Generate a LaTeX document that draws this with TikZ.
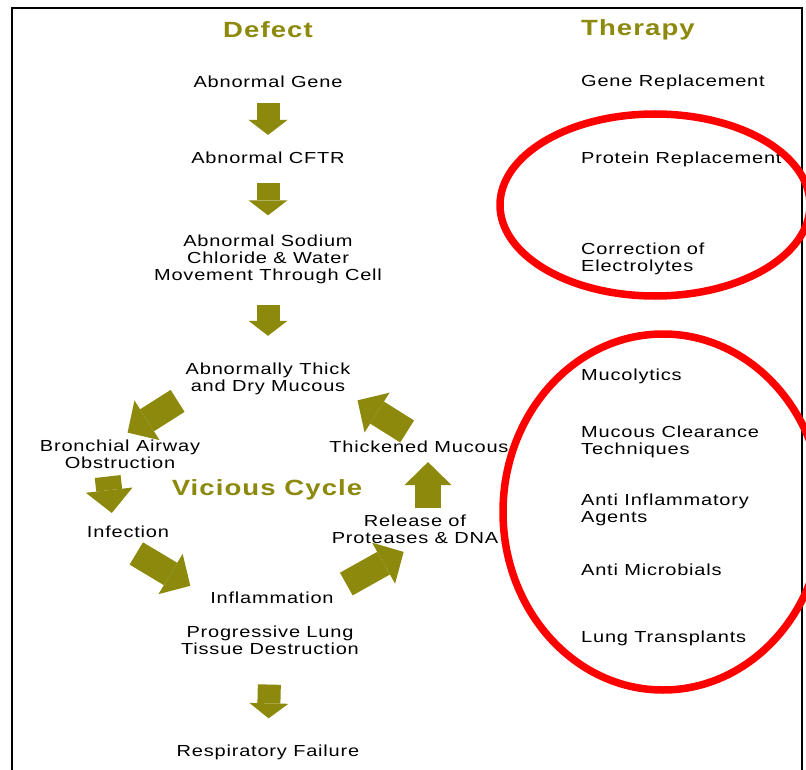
\documentclass[tikz,border=0pt]{standalone}
\usepackage{fontspec}
\setmainfont{Liberation Sans}[FakeStretch=1.25, LetterSpace=5]
\usepackage{tikz}
\usetikzlibrary{arrows.meta}
\definecolor{cfolive}{RGB}{140,137,12}

\begin{document}
\begin{tikzpicture}[x=1pt,y=-1pt,
    every node/.style={inner sep=2pt, font=\fontsize{16}{17}\selectfont, align=center},
    heading/.style={font=\fontsize{22}{24}\selectfont\bfseries, text=cfolive},
    therapy/.style={anchor=west, align=left},
    downarrow/.style={cfolive, line width=23pt, -{Triangle[length=15pt,width=39pt,line width=0pt]}},
    cyclearrow/.style={cfolive, line width=26pt, -{Triangle[length=23pt,width=47pt,line width=0pt]}},
    ring/.style={red, line width=7.5pt}]
            \useasboundingbox (0,0) rectangle (806,770);
            \clip (0,0) rectangle (806,770);
            \fill[white] (0,0) rectangle (806,770);

            % Frame
            \draw[line width=1.6pt] (12,8) rectangle (802,790);

            % Column headings
            \node[heading] (defect) at (268,30) {Defect};
            \node[heading, anchor=west] (therapy) at (579,30) {Therapy};

            % Defect chain
            \node (gene) at (268,82) {Abnormal Gene};
            \node (cftr) at (268,158) {Abnormal CFTR};
            \node (sodium) at (268,259) {Abnormal Sodium\\Chloride \& Water\\Movement Through Cell};
            \node (thick) at (268,379) {Abnormally Thick\\and Dry Mucous};
            \node (bronchial) at (120,454) {Bronchial Airway\\Obstruction};
            \node (infection) at (128,532) {Infection};
            \node (inflam) at (272,598) {Inflammation};
            \node (release) at (415,529) {Release of\\Proteases \& DNA};
            \node (thickened) at (419,447) {Thickened Mucous};
            \node[heading] (vicious) at (267,490) {Vicious Cycle};
            \node (destruct) at (270,640) {Progressive Lung\\Tissue Destruction};
            \node (failure) at (268,752) {Respiratory Failure};

            % Therapy column
            \foreach \name/\y/\txt in {generep/82/Gene Replacement, protein/159/Protein Replacement,
                electro/259/{Correction of\\Electrolytes}, muco/376/Mucolytics,
                clearance/442/{Mucous Clearance\\Techniques}, antiinf/510/{Anti Inflammatory\\Agents},
                antimic/570/Anti Microbials, transpl/638/Lung Transplants}
            {
                \node[therapy] (\name) at (579,\y) {\txt};
            }

            % Straight steps down
            \draw[downarrow, shorten <=13pt, shorten >=15pt] (gene.south) -- (cftr.north);
            \draw[downarrow, shorten <=17pt, shorten >=17pt] (cftr.south) -- (sodium.north);
            \draw[downarrow, shorten <=19pt, shorten >=25pt] (sodium.south) -- (thick.north);
            \draw[downarrow, shorten <=28pt, shorten >=24pt] (destruct.south) -- (failure.north);

            % Vicious cycle
            \draw[cyclearrow, shorten <=7pt, shorten >=9pt] (thick.south west) -- (bronchial.north);
            \draw[cyclearrow, shorten <=6pt, shorten >=11pt] ([shift={(-13,0)}]bronchial.south) -- ([shift={(-15,0)}]infection.north);
            \draw[cyclearrow, shorten <=26pt, shorten >=8pt] ([shift={(-14,0)}]infection.south) -- ([shift={(-11,0)}]inflam.north west);
            \draw[cyclearrow, shorten <=12pt, shorten >=13pt] (inflam.north east) -- (release.south);
            \draw[cyclearrow, shorten <=4pt, shorten >=7pt] ([shift={(13,0)}]release.north) -- ([shift={(9,0)}]thickened.south);
            \draw[cyclearrow, shorten <=14pt, shorten >=6pt] (thickened.north) -- (thick.south east);

            % Rings round the therapies
            \draw[ring] (655,205) ellipse [x radius=155pt, y radius=91pt];
            \draw[ring] (663,512) ellipse [x radius=160pt, y radius=178pt];
        \end{tikzpicture}
\end{document}
